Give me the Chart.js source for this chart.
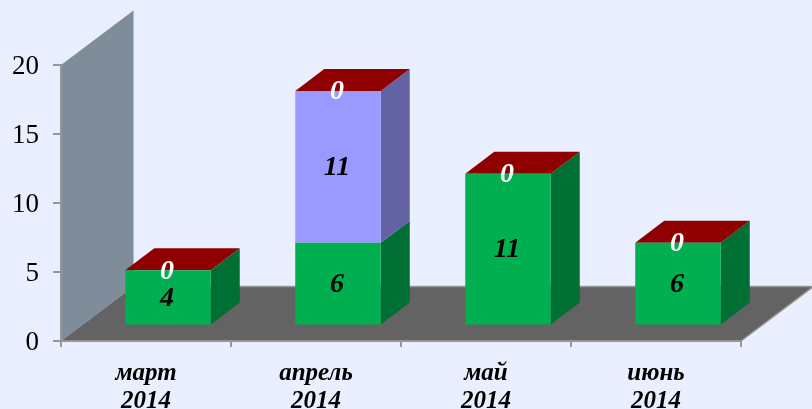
<!DOCTYPE html>
<html>
<head>
<meta charset="utf-8">
<script src="https://cdn.jsdelivr.net/npm/chart.js@4/dist/chart.umd.min.js"></script>
<style>
    html, body { margin: 0; padding: 0; background: #e9effe; overflow: hidden; }
    canvas { display: block; }
</style>
</head>
<body>
<canvas id="chart" width="812" height="409"></canvas>
<script>
const months = [['март', '2014'], ['апрель', '2014'], ['май', '2014'], ['июнь', '2014']];
const greenValues = [4, 6, 11, 6];
const blueValues = [0, 11, 0, 0];
const redValues = [0, 0, 0, 0];
// the blue series only has a label where it has a bar
const blueLabels = [null, 11, null, null];

const FLOOR = { dx: 72.5, dy: 54.5 };   // depth of the whole box
const BAR_SHIFT = { dx: 22, dy: 15.5 }; // bars stand a little inside the floor
const BAR_DEPTH = { dx: 29, dy: 22 };
const AXIS_GREY = '#969696';

function poly(ctx, pts, fill) {
    ctx.beginPath();
    pts.forEach((p, i) => i ? ctx.lineTo(p[0], p[1]) : ctx.moveTo(p[0], p[1]));
    ctx.closePath();
    ctx.fillStyle = fill;
    ctx.fill();
}

const box3d = {
    id: 'box3d',
    afterLayout(chart) {
        // value labels sit a touch lower than the font's middle baseline gives
        const y = chart.scales.y;
        if (y.drawLabels !== y.constructor.prototype.drawLabels) return;
        const drawLabels = y.drawLabels;
        y.drawLabels = function (area) {
            chart.ctx.save();
            chart.ctx.translate(0, 2);
            drawLabels.call(this, area);
            chart.ctx.restore();
        };
    },
    beforeDraw(chart) {
        const { ctx, chartArea: a } = chart;
        const bx = a.left + FLOOR.dx, by = a.bottom - FLOOR.dy;
        poly(ctx, [[a.left, a.top], [a.left + FLOOR.dx, a.top - FLOOR.dy], [bx, by], [a.left, a.bottom]], '#7f8c99');
        poly(ctx, [[a.left, a.bottom], [bx, by], [a.right + FLOOR.dx, by], [a.right, a.bottom]], '#636363');
        ctx.strokeStyle = AXIS_GREY;
        ctx.lineWidth = 1.5;
        ctx.beginPath();
        ctx.moveTo(bx, by);
        ctx.lineTo(a.right + FLOOR.dx, by);
        ctx.lineTo(a.right, a.bottom);
        ctx.stroke();
    },
    // side faces go in first, the library then paints the fronts over them
    beforeDatasetsDraw(chart) {
        const ctx = chart.ctx;
        ctx.save();
        ctx.translate(BAR_SHIFT.dx, -BAR_SHIFT.dy);
        chart.data.datasets.forEach((ds, i) => {
            chart.getDatasetMeta(i).data.forEach((bar) => {
                if (bar.base - bar.y < 0.5) return;
                const r = bar.x + bar.width / 2;
                poly(ctx, [[r, bar.y], [r + BAR_DEPTH.dx, bar.y - BAR_DEPTH.dy],
                    [r + BAR_DEPTH.dx, bar.base - BAR_DEPTH.dy], [r, bar.base]], ds.sideColor);
            });
        });
        // stack caps, taken from the top series
        const last = chart.data.datasets.length - 1;
        chart.getDatasetMeta(last).data.forEach((bar) => {
            const l = bar.x - bar.width / 2, r = bar.x + bar.width / 2;
            poly(ctx, [[l, bar.y], [l + BAR_DEPTH.dx, bar.y - BAR_DEPTH.dy],
                [r + BAR_DEPTH.dx, bar.y - BAR_DEPTH.dy], [r, bar.y]], chart.data.datasets[last].backgroundColor);
        });
        ctx.restore();
    },
    beforeDatasetDraw(chart) {
        chart.ctx.save();
        chart.ctx.translate(BAR_SHIFT.dx, -BAR_SHIFT.dy);
    },
    afterDatasetDraw(chart) {
        chart.ctx.restore();
    },
    afterDatasetsDraw(chart) {
        const ctx = chart.ctx;
        ctx.save();
        ctx.font = 'italic bold 28px "Liberation Serif"';
        ctx.textAlign = 'center';
        ctx.textBaseline = 'middle';
        chart.data.datasets.forEach((ds, i) => {
            chart.getDatasetMeta(i).data.forEach((bar, j) => {
                const label = ds.labels[j];
                if (label === null) return;
                ctx.fillStyle = ds.labelColor;
                ctx.fillText(label, bar.x + BAR_SHIFT.dx - 1, (bar.y + bar.base) / 2 - BAR_SHIFT.dy + 1);
            });
        });
        ctx.restore();
    }
};

new Chart(document.getElementById('chart'), {
    type: 'bar',
    data: {
        labels: months,
        datasets: [
            { data: greenValues, labels: greenValues, backgroundColor: '#00b050', sideColor: '#006f33', labelColor: '#000' },
            { data: blueValues, labels: blueLabels, backgroundColor: '#9999ff', sideColor: '#6363a3', labelColor: '#000' },
            { data: redValues, labels: redValues, backgroundColor: '#8f0000', sideColor: '#5c0000', labelColor: '#fff' }
        ]
    },
    options: {
        responsive: false,
        animation: false,
        layout: { padding: { top: 65, right: 71, left: 0, bottom: 0 } },
        datasets: { bar: { categoryPercentage: 0.503, barPercentage: 1, borderWidth: 0 } },
        plugins: { legend: { display: false }, tooltip: { enabled: false } },
        scales: {
            x: {
                stacked: true,
                afterFit: (s) => { s.height = 68; },
                border: { color: AXIS_GREY, width: 2 },
                grid: { offset: true, drawOnChartArea: false, color: AXIS_GREY, tickColor: AXIS_GREY, tickLength: 6, lineWidth: 2 },
                ticks: {
                    maxRotation: 0,
                    autoSkip: false,
                    padding: 13,
                    color: '#000',
                    font: { family: '"Liberation Serif"', size: 25, style: 'italic', weight: 'bold', lineHeight: 1.12 }
                }
            },
            y: {
                stacked: true,
                min: 0,
                max: 20,
                afterFit: (s) => { s.width = 61; },
                border: { color: AXIS_GREY, width: 2 },
                grid: { drawOnChartArea: false, color: AXIS_GREY, tickColor: AXIS_GREY, tickLength: 8, lineWidth: 2 },
                ticks: {
                    stepSize: 5,
                    padding: 14,
                    color: '#000',
                    font: { family: '"Liberation Serif"', size: 27 }
                }
            }
        }
    },
    plugins: [box3d]
});
</script>
</body>
</html>
